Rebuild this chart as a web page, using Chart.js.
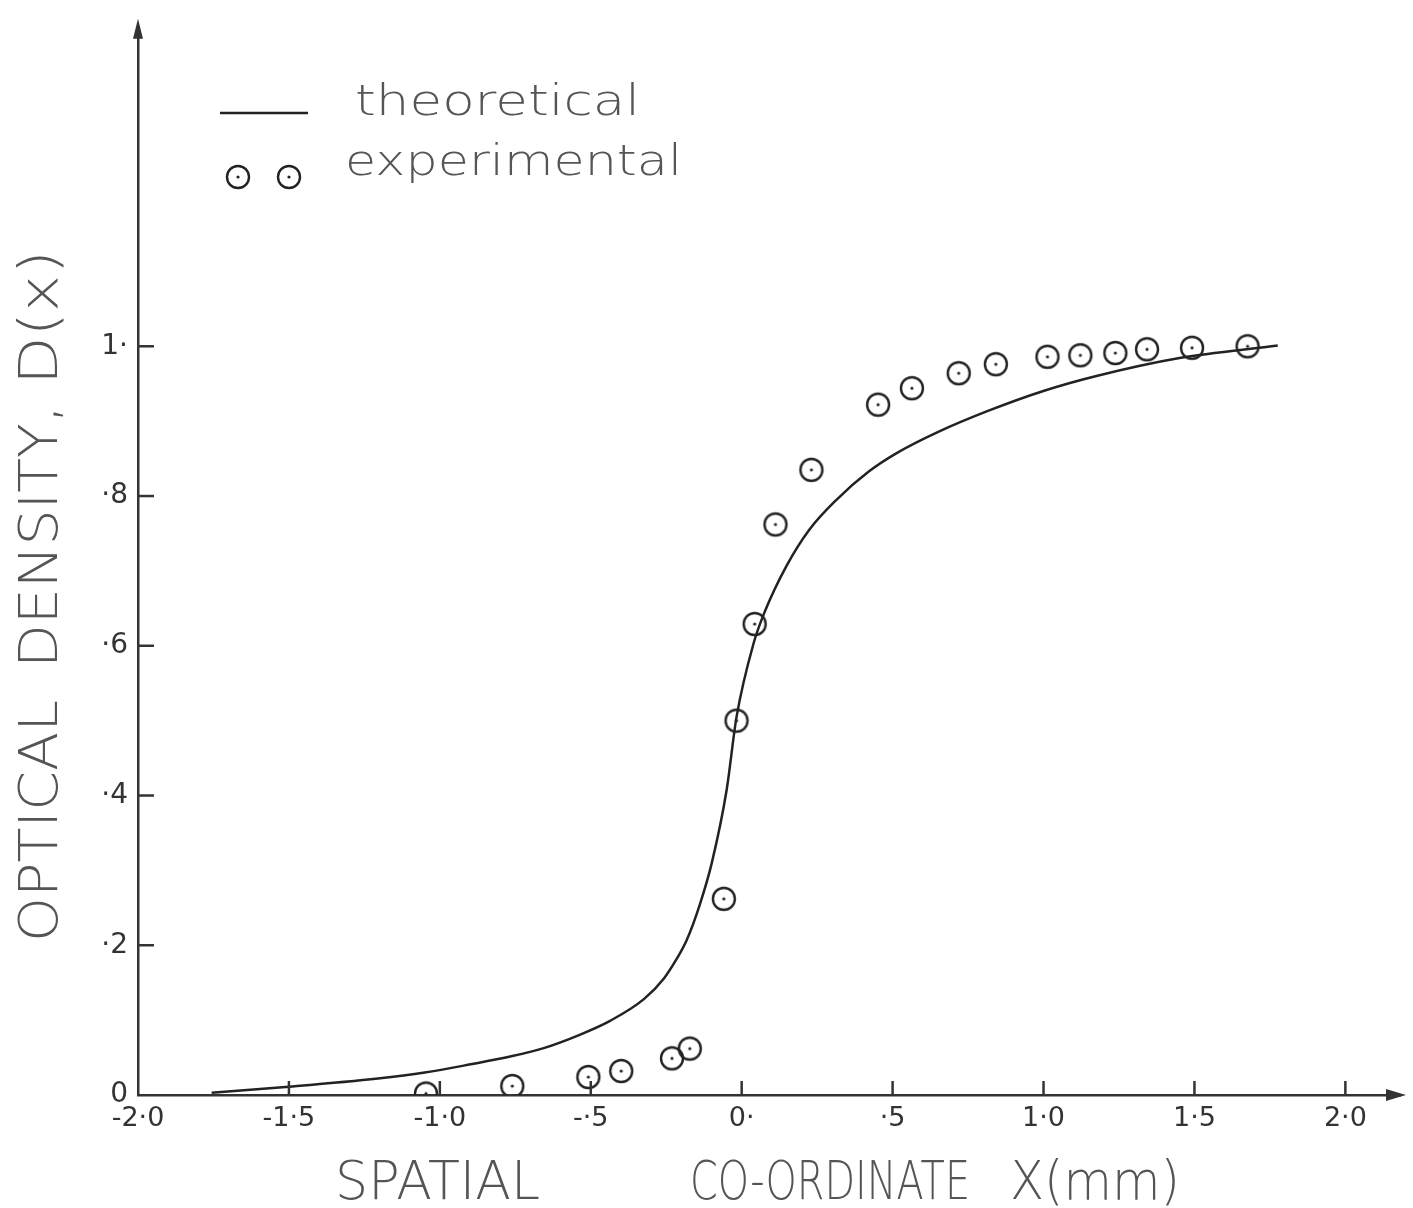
<!DOCTYPE html>
<html>
<head>
<meta charset="utf-8">
<script src="https://cdn.jsdelivr.net/npm/chart.js@4.4.1/dist/chart.umd.min.js"></script>
<style>
  body { margin: 0; background: #fff; }
  canvas { display: block; }
</style>
</head>
<body>
<canvas id="densidade" width="1413" height="1208"></canvas>
<script>
// tick values and labels as hand-lettered on the original
const xTicks = [-2, -1.5, -1, -0.5, 0, 0.5, 1, 1.5, 2];
const xTickLabels = ['-2·0', '-1·5', '-1·0', '-·5', '0·', '·5', '1·0', '1·5', '2·0'];
const yTicks = [0, 0.2, 0.4, 0.6, 0.8, 1.0];
const yTickLabels = ['0', '·2', '·4', '·6', '·8', '1·'];

// theoretical curve
const theoryX = [-1.756, -1.5, -1.205, -1.05, -0.898, -0.76, -0.653, -0.545, -0.436, -0.324,
  -0.257, -0.215, -0.182, -0.139, -0.099, -0.05, -0.017, 0.04, 0.076, 0.149,
  0.224, 0.314, 0.422, 0.512, 0.653, 0.818, 0.997, 1.172, 1.446, 1.776];
const theoryY = [0.003, 0.011, 0.022, 0.03, 0.041, 0.052, 0.063, 0.079, 0.099, 0.128,
  0.156, 0.182, 0.207, 0.254, 0.31, 0.407, 0.505, 0.604, 0.645, 0.707,
  0.755, 0.795, 0.833, 0.857, 0.886, 0.914, 0.940, 0.960, 0.984, 1.001];

// experimental points
const expX = [-1.046, -0.76, -0.508, -0.399, -0.231, -0.172, -0.059, -0.017, 0.043, 0.112,
  0.231, 0.452, 0.564, 0.719, 0.842, 1.013, 1.122, 1.238, 1.343, 1.492, 1.676];
const expY = [0.002, 0.012, 0.024, 0.032, 0.049, 0.062, 0.262, 0.50, 0.629, 0.762,
  0.835, 0.922, 0.944, 0.964, 0.976, 0.986, 0.988, 0.991, 0.996, 0.998, 1.0];

const tinta = '#222';
const fonte = "'DejaVu Sans', sans-serif";

// circle with a dot in the middle, used for the experimental points
function criarMarcador() {
    const c = document.createElement('canvas');
    c.width = 28; c.height = 28;
    const g = c.getContext('2d');
    g.strokeStyle = tinta;
    g.lineWidth = 2.4;
    g.beginPath();
    g.arc(14, 14, 11, 0, Math.PI * 2);
    g.stroke();
    g.fillStyle = tinta;
    g.beginPath();
    g.arc(14, 14, 1.6, 0, Math.PI * 2);
    g.fill();
    return c;
}
const marcador = criarMarcador();

// draws a word squeezed/stretched to fit between x and x + largura
function textoAjustado(ctx, texto, x, y, largura, tamanho, cor) {
    ctx.save();
    ctx.font = `200 ${tamanho}px ${fonte}`;
    ctx.fillStyle = cor;
    ctx.textBaseline = 'alphabetic';
    ctx.textAlign = 'left';
    const w = ctx.measureText(texto).width;
    ctx.translate(x, y);
    ctx.scale(largura / w, 1);
    ctx.fillText(texto, 0, 0);
    ctx.restore();
}

const eixosPlugin = {
    id: 'eixos',
    afterDraw(chart) {
        const ctx = chart.ctx;
        const a = chart.chartArea;
        const sx = chart.scales.x, sy = chart.scales.y;

        ctx.save();
        ctx.strokeStyle = '#333';
        ctx.fillStyle = '#333';
        ctx.lineWidth = 2.5;

        // inward ticks
        yTicks.slice(1).forEach(v => {
            const py = sy.getPixelForValue(v);
            ctx.beginPath();
            ctx.moveTo(a.left, py);
            ctx.lineTo(a.left + 16, py);
            ctx.stroke();
        });
        xTicks.slice(1).forEach(v => {
            const px = sx.getPixelForValue(v);
            ctx.beginPath();
            ctx.moveTo(px, a.bottom);
            ctx.lineTo(px, a.bottom - 14);
            ctx.stroke();
        });

        // arrow heads
        ctx.beginPath();
        ctx.moveTo(a.left, a.top - 8);
        ctx.lineTo(a.left - 5, a.top + 12);
        ctx.lineTo(a.left + 5, a.top + 12);
        ctx.closePath();
        ctx.fill();
        ctx.beginPath();
        ctx.moveTo(a.right + 6, a.bottom);
        ctx.lineTo(a.right - 14, a.bottom - 6);
        ctx.lineTo(a.right - 14, a.bottom + 6);
        ctx.closePath();
        ctx.fill();

        // legend
        ctx.strokeStyle = tinta;
        ctx.beginPath();
        ctx.moveTo(220, 113);
        ctx.lineTo(308, 113);
        ctx.stroke();
        ctx.drawImage(marcador, 238 - 14, 177 - 14);
        ctx.drawImage(marcador, 289 - 14, 177 - 14);
        ctx.restore();

        textoAjustado(ctx, 'theoretical', 355, 115, 285, 42, '#555');
        textoAjustado(ctx, 'experimental', 345, 175, 337, 42, '#555');

        // x axis title
        textoAjustado(ctx, 'SPATIAL', 335, 1199, 205, 54, '#555');
        textoAjustado(ctx, 'CO-ORDINATE', 690, 1199, 280, 54, '#555');
        textoAjustado(ctx, 'X(mm)', 1010, 1199, 170, 54, '#555');

        // y axis title, rotated
        ctx.save();
        ctx.translate(57, 0);
        ctx.rotate(-Math.PI / 2);
        textoAjustado(ctx, 'OPTICAL', -942, 0, 242, 54, '#555');
        textoAjustado(ctx, 'DENSITY,', -668, 0, 263, 54, '#555');
        textoAjustado(ctx, 'D(x)', -385, 0, 135, 54, '#555');
        ctx.restore();
    }
};

new Chart(document.getElementById('densidade'), {
    type: 'scatter',
    data: {
        datasets: [{
            label: 'theoretical',
            data: theoryX.map((x, i) => ({ x, y: theoryY[i] })),
            showLine: true,
            borderColor: tinta,
            borderWidth: 2.5,
            pointRadius: 0,
            cubicInterpolationMode: 'monotone'
        }, {
            label: 'experimental',
            data: expX.map((x, i) => ({ x, y: expY[i] })),
            showLine: false,
            pointStyle: marcador,
            pointRadius: 12
        }]
    },
    options: {
        responsive: false,
        animation: false,
        layout: { padding: { top: 15, right: 8, left: 0, bottom: 0 } },
        plugins: {
            legend: { display: false },
            tooltip: { enabled: false }
        },
        scales: {
            x: {
                type: 'linear',
                min: -2,
                max: 2.181,
                afterBuildTicks: s => { s.ticks = xTicks.map(v => ({ value: v })); },
                afterFit: s => { s.height = 113; },
                grid: { display: false, drawTicks: false },
                border: { display: true, color: '#333', width: 2.5 },
                ticks: {
                    autoSkip: false,
                    maxRotation: 0,
                    padding: 8,
                    color: '#333',
                    font: { family: fonte, size: 27 },
                    callback: (v, i) => xTickLabels[i]
                }
            },
            y: {
                type: 'linear',
                min: 0,
                max: 1.4267,
                afterBuildTicks: s => { s.ticks = yTicks.map(v => ({ value: v })); },
                afterFit: s => { s.width = 138; },
                grid: { display: false, drawTicks: false },
                border: { display: true, color: '#333', width: 2.5 },
                ticks: {
                    padding: 10,
                    color: '#333',
                    font: { family: fonte, size: 28 },
                    callback: (v, i) => yTickLabels[i]
                }
            }
        }
    },
    plugins: [eixosPlugin]
});
</script>
</body>
</html>
